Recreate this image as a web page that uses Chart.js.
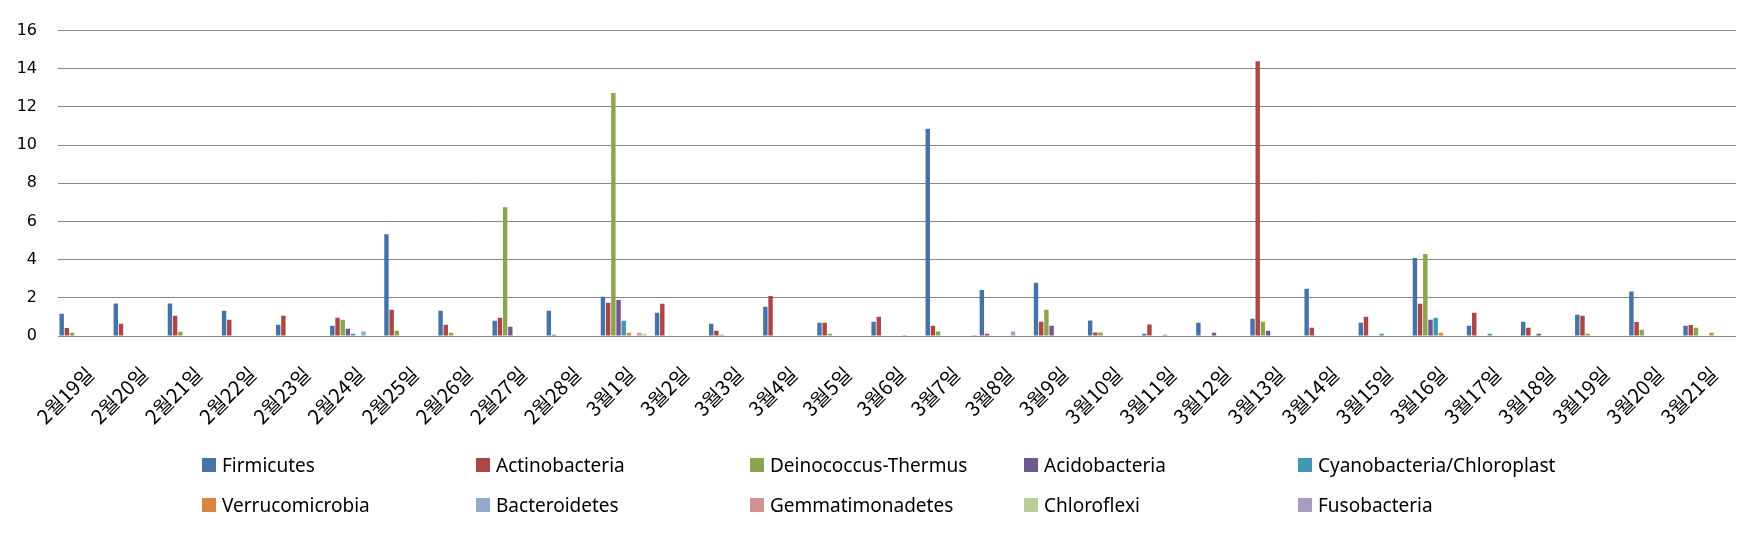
<!DOCTYPE html>
<html>
<head>
<meta charset="utf-8">
<script src="https://cdn.jsdelivr.net/npm/chart.js@4.4.1/dist/chart.umd.min.js"></script>
<style>
  body { margin: 0; background: #fff; }
  #wrap { position: relative; width: 1760px; height: 535px; }
  #legend { position: absolute; left: 0; top: 0; width: 1760px; height: 535px; pointer-events: none;
            font-family: "Noto Sans", "Noto Sans CJK KR", sans-serif; font-size: 19px; color: #000; }
  .item { position: absolute; display: flex; align-items: center; white-space: nowrap; }
  .box { width: 14px; height: 14px; margin-right: 6px; }
</style>
</head>
<body>
<div id="wrap">
  <canvas id="chart" width="1760" height="535"></canvas>
  <div id="legend"></div>
</div>
<script>
// Category labels
const categories = [
  '2월19일', '2월20일', '2월21일', '2월22일', '2월23일', '2월24일', '2월25일', '2월26일', '2월27일', '2월28일',
  '3월1일', '3월2일', '3월3일', '3월4일', '3월5일', '3월6일', '3월7일', '3월8일', '3월9일', '3월10일',
  '3월11일', '3월12일', '3월13일', '3월14일', '3월15일', '3월16일', '3월17일', '3월18일', '3월19일', '3월20일', '3월21일'
];

// Series values
const firmicutes = [1.17, 1.70, 1.70, 1.32, 0.59, 0.54, 5.33, 1.32, 0.80, 1.32, 2.05, 1.22, 0.64, 1.53, 0.69, 0.75,
  10.86, 2.41, 2.79, 0.81, 0.12, 0.70, 0.90, 2.47, 0.69, 4.08, 0.54, 0.75, 1.11, 2.33, 0.54];
const actinobacteria = [0.42, 0.64, 1.06, 0.85, 1.06, 0.96, 1.37, 0.59, 0.96, 0.07, 1.74, 1.69, 0.28, 2.10, 0.69, 1.01,
  0.54, 0.12, 0.75, 0.18, 0.60, 0, 14.40, 0.43, 1.01, 1.69, 1.22, 0.43, 1.06, 0.74, 0.58];
const deinococcus = [0.17, 0, 0.22, 0, 0, 0.85, 0.28, 0.17, 6.74, 0, 12.73, 0, 0.07, 0, 0.12, 0,
  0.23, 0, 1.38, 0.18, 0, 0, 0.75, 0, 0, 4.29, 0, 0, 0.12, 0.33, 0.43];
const acidobacteria = [0, 0, 0, 0, 0, 0.38, 0, 0, 0.49, 0, 1.89, 0, 0, 0, 0, 0,
  0, 0, 0.54, 0, 0, 0.17, 0.28, 0, 0, 0.85, 0, 0.12, 0, 0, 0];
const cyanobacteria = [0, 0, 0, 0, 0, 0.12, 0, 0, 0, 0, 0.80, 0, 0, 0, 0, 0,
  0, 0, 0, 0, 0.07, 0, 0, 0, 0.12, 0.96, 0.12, 0, 0, 0, 0];
const verrucomicrobia = [0, 0, 0, 0, 0, 0, 0, 0, 0, 0, 0.17, 0, 0, 0, 0, 0,
  0, 0, 0, 0, 0, 0, 0, 0, 0, 0.17, 0, 0, 0, 0, 0.17];
const bacteroidetes = [0, 0, 0, 0, 0, 0.23, 0, 0, 0, 0, 0, 0, 0, 0, 0, 0.05,
  0, 0.23, 0, 0, 0, 0, 0, 0, 0, 0, 0, 0, 0, 0, 0];
const gemmatimonadetes = [0, 0, 0, 0, 0, 0, 0, 0, 0, 0, 0.17, 0, 0, 0, 0, 0,
  0, 0, 0, 0, 0, 0, 0, 0, 0, 0, 0, 0, 0, 0, 0];
const chloroflexi = [0, 0, 0, 0, 0, 0, 0, 0, 0, 0, 0.12, 0, 0, 0, 0, 0,
  0, 0, 0, 0, 0, 0, 0, 0, 0, 0, 0, 0, 0, 0, 0];
const fusobacteria = [0, 0, 0, 0, 0, 0, 0, 0, 0, 0, 0, 0, 0, 0, 0, 0,
  0.05, 0, 0, 0, 0, 0, 0, 0, 0, 0, 0, 0, 0, 0, 0];

const seriesNames = ['Firmicutes', 'Actinobacteria', 'Deinococcus-Thermus', 'Acidobacteria', 'Cyanobacteria/Chloroplast',
  'Verrucomicrobia', 'Bacteroidetes', 'Gemmatimonadetes', 'Chloroflexi', 'Fusobacteria'];
const seriesData = [firmicutes, actinobacteria, deinococcus, acidobacteria, cyanobacteria,
  verrucomicrobia, bacteroidetes, gemmatimonadetes, chloroflexi, fusobacteria];
const colors = ['#4572A7', '#AA4643', '#89A54E', '#71588F', '#4198AF',
  '#DB843D', '#93A9CF', '#D19392', '#B9CD96', '#A99BBD'];

const datasets = seriesNames.map((name, i) => ({
  label: name,
  data: seriesData[i],
  backgroundColor: colors[i],
  borderWidth: 0,
  categoryPercentage: 0.96,
  barPercentage: 0.85
}));

const ctx = document.getElementById('chart').getContext('2d');
const chart = new Chart(ctx, {
  type: 'bar',
  data: { labels: categories, datasets },
  options: {
    responsive: false,
    animation: false,
    layout: { padding: { top: 29, right: 24, bottom: 89, left: 0 } },
    plugins: {
      legend: { display: false },
      tooltip: { enabled: false }
    },
    scales: {
      x: {
        grid: { display: false },
        border: { display: false },
        ticks: {
          color: '#000',
          font: { family: '"Noto Sans CJK KR", sans-serif', size: 20 },
          minRotation: 45,
          maxRotation: 45,
          autoSkip: false,
          padding: 18,
          labelOffset: 5
        },
        afterFit: scale => { scale.height = 110; }
      },
      y: {
        min: 0,
        max: 16,
        ticks: {
          stepSize: 2,
          color: '#000',
          font: { family: '"DejaVu Sans", sans-serif', size: 16 },
          padding: 21
        },
        grid: { color: '#868686', lineWidth: 1, drawTicks: false },
        border: { display: false },
        afterFit: scale => { scale.width = 58; }
      }
    }
  }
});

// Legend in a 5-column grid, built from the chart's datasets
const legend = document.getElementById('legend');
const colX = [202, 476, 750, 1024, 1298];
const rowY = [465, 505];
chart.data.datasets.forEach((ds, i) => {
  const item = document.createElement('div');
  item.className = 'item';
  item.style.left = colX[i % 5] + 'px';
  item.style.top = (rowY[Math.floor(i / 5)] - 14) + 'px';
  item.style.height = '28px';
  item.innerHTML = `<span class="box" style="background:${ds.backgroundColor}"></span><span>${ds.label}</span>`;
  legend.appendChild(item);
});
</script>
</body>
</html>
